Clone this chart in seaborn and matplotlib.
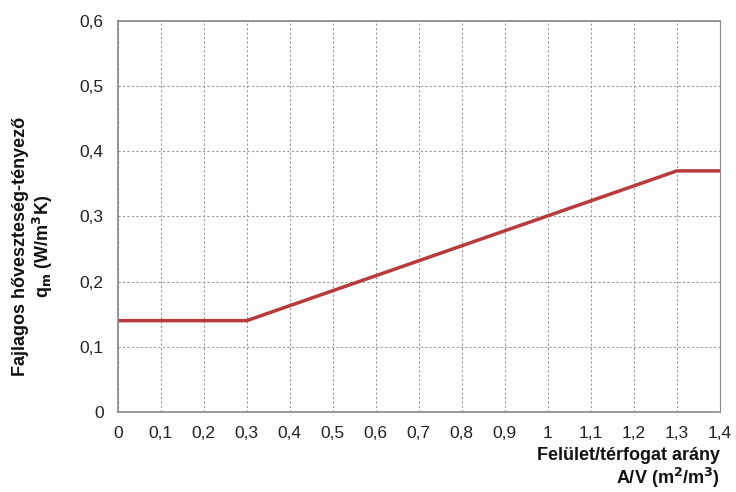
import matplotlib
matplotlib.use('Agg')
import matplotlib.pyplot as plt
import seaborn as sns
import pandas as pd

# data
av_ratio = [0.0, 0.3, 1.3, 1.4]
q_m = [0.14, 0.14, 0.37, 0.37]
x_ticks = [0, 0.1, 0.2, 0.3, 0.4, 0.5, 0.6, 0.7, 0.8, 0.9, 1, 1.1, 1.2, 1.3, 1.4]
y_ticks = [0, 0.1, 0.2, 0.3, 0.4, 0.5, 0.6]

df = pd.DataFrame({'av': av_ratio, 'q': q_m})

sns.set_style("white")
plt.rcParams['font.family'] = ['Liberation Sans', 'DejaVu Sans']

fig, ax = plt.subplots(figsize=(7.36, 4.92), dpi=100)
fig.subplots_adjust(left=0.16, right=0.978, top=0.957, bottom=0.163)

sns.lineplot(data=df, x='av', y='q', ax=ax, color='#b83a3a', linewidth=2.5)

ax.set_xlim(0, 1.4)
ax.set_ylim(0, 0.6)
ax.set_xticks(x_ticks)
ax.set_xticklabels([f'{t:g}'.replace('.', ',') for t in x_ticks], fontsize=12.5, color='#222222')
ax.set_yticks(y_ticks)
ax.set_yticklabels([f'{t:g}'.replace('.', ',') for t in y_ticks], fontsize=12.5, color='#222222')
ax.tick_params(axis='both', direction='out', length=4, width=0.8, color='#555555', pad=6)

ax.grid(True, color='#999999', linestyle=(0, (2, 2)), linewidth=0.8)
for side in ['left', 'top', 'bottom', 'right']:
    ax.spines[side].set_color('#888888')
    ax.spines[side].set_linewidth(1.2)
ax.spines['right'].set_linewidth(0.8)

ax.set_xlabel('')
ax.set_ylabel('')
fig.text(0.978, 0.005, 'Felület/térfogat arány\nA/V (m$^\\mathbf{2}$/m$^\\mathbf{3}$)', ha='right', va='bottom',
         fontsize=13, fontweight='bold', linespacing=1.1, color='#111111')
fig.text(0.045, 0.50, 'Fajlagos hőveszteség-tényező\nq$_\\mathbf{m}$ (W/m$^\\mathbf{3}$K)', ha='center', va='center',
         rotation=90, fontsize=13, fontweight='bold', linespacing=1.1, color='#111111',
         multialignment='center')

plt.savefig('out.png', dpi=100)
